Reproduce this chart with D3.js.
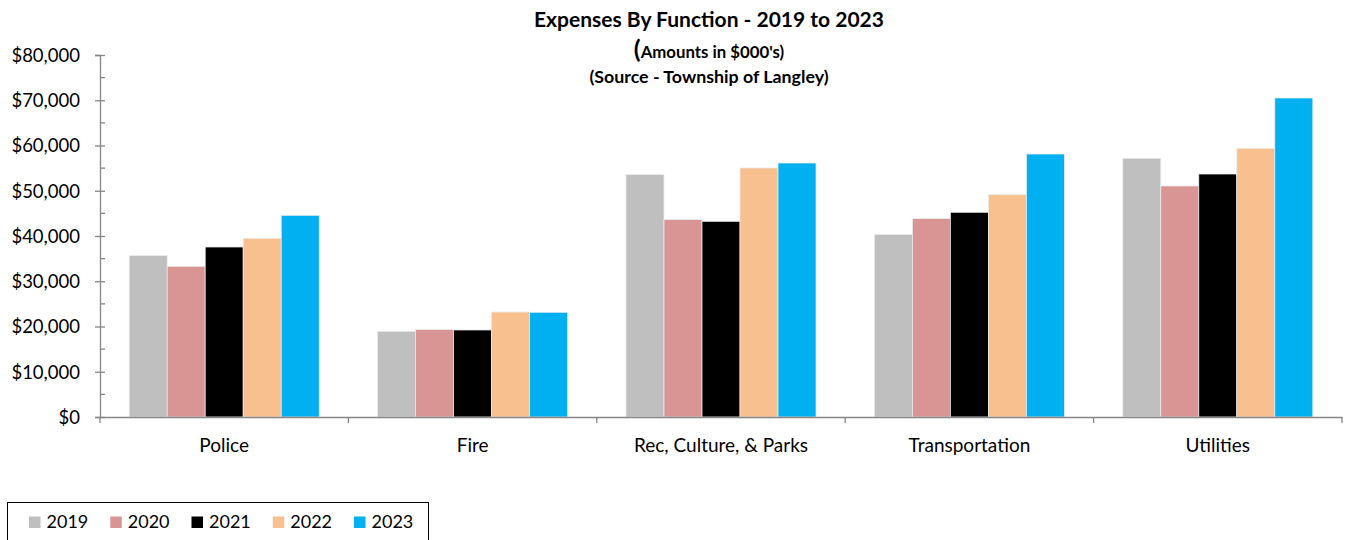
<!DOCTYPE html>
<html>
<head>
<meta charset="utf-8">
<script src="https://cdn.jsdelivr.net/npm/d3@7"></script>
<style>
  html, body { margin: 0; padding: 0; background: #fff; }
  svg { display: block; font-family: Lato, "Noto Sans", sans-serif; }
</style>
</head>
<body>
<svg id="chart" width="1348" height="540"></svg>
<script>
// Expenses by function, amounts in $000's
const categories = ["Police", "Fire", "Rec, Culture, & Parks", "Transportation", "Utilities"];
const years = ["2019", "2020", "2021", "2022", "2023"];
const colors = ["#BFBFBF", "#D99594", "#000000", "#F9C08F", "#00B0F0"];

const values2019 = [35670, 18940, 53570, 40310, 57170];
const values2020 = [33300, 19310, 43620, 43840, 51050];
const values2021 = [37570, 19230, 43250, 45240, 53700];
const values2022 = [39490, 23200, 55030, 49150, 59380];
const values2023 = [44570, 23140, 56130, 58120, 70500];
const seriesValues = [values2019, values2020, values2021, values2022, values2023];

const yTicks = [0, 10000, 20000, 30000, 40000, 50000, 60000, 70000, 80000];
const yMinorTicks = [5000, 15000, 25000, 35000, 45000, 55000, 65000, 75000];

const svg = d3.select("#chart");
const margin = { left: 100, right: 1342, top: 55, bottom: 417 };
const axisColor = "#868686";

const x0 = d3.scaleBand().domain(categories).range([margin.left, margin.right]).padding(0);
const x1 = d3.scaleBand().domain(years).range([0, x0.bandwidth()])
  .paddingInner(0).paddingOuter(0.768);
const y = d3.scaleLinear().domain([0, 80000]).range([margin.bottom, margin.top]);

// Bars
const groups = svg.append("g").selectAll("g")
  .data(categories)
  .join("g")
  .attr("transform", d => `translate(${x0(d)},0)`);

groups.selectAll("rect")
  .data((c, ci) => years.map((yr, yi) => ({ year: yr, idx: yi, value: seriesValues[yi][ci] })))
  .join("rect")
  .attr("x", d => x1(d.year))
  .attr("y", d => y(d.value))
  .attr("width", x1.bandwidth())
  .attr("height", d => y(0) - y(d.value))
  .attr("fill", d => colors[d.idx])
  .attr("stroke", "#ececec")
  .attr("stroke-width", 0.75);

// Y axis
const yAxis = d3.axisLeft(y)
  .tickValues(yTicks)
  .tickFormat(d => "$" + d3.format(",")(d))
  .tickSize(5)
  .tickPadding(15);
const yg = svg.append("g").attr("transform", `translate(${margin.left},0)`).call(yAxis);
yg.select(".domain").attr("stroke", axisColor).attr("stroke-width", 1.3);
yg.selectAll(".tick line").attr("stroke", axisColor).attr("stroke-width", 1.3)
  .attr("x1", 5).attr("x2", -5);
yg.selectAll(".tick text").attr("fill", "#000").style("font-size", "18.5px")
  .style("font-family", "Lato, sans-serif").attr("dy", "0.35em");
yg.selectAll(".minor").data(yMinorTicks).join("line")
  .attr("class", "minor")
  .attr("x1", 0).attr("x2", 5)
  .attr("y1", d => y(d)).attr("y2", d => y(d))
  .attr("stroke", axisColor).attr("stroke-width", 1.3);

// X axis
const xAxis = d3.axisBottom(x0).tickSize(0).tickPadding(22);
const xg = svg.append("g").attr("transform", `translate(0,${margin.bottom})`).call(xAxis);
xg.select(".domain").attr("stroke", axisColor).attr("stroke-width", 1.3);
xg.selectAll(".tick text").attr("fill", "#000").style("font-size", "19px")
  .style("font-family", "Lato, sans-serif");
const boundaries = categories.map(c => x0(c)).concat([x0(categories[categories.length - 1]) + x0.bandwidth()]);
xg.selectAll(".sep").data(boundaries).join("line")
  .attr("class", "sep")
  .attr("x1", d => d).attr("x2", d => d)
  .attr("y1", 0).attr("y2", 6)
  .attr("stroke", axisColor).attr("stroke-width", 1.3);

// Titles
const cx = 709;
svg.append("text").attr("x", cx).attr("y", 27).attr("text-anchor", "middle")
  .style("font-weight", "bold").style("font-size", "21px")
  .text("Expenses By Function - 2019 to 2023");
const sub = svg.append("text").attr("x", cx).attr("y", 58).attr("text-anchor", "middle")
  .style("font-weight", "bold").style("font-size", "16.8px");
sub.append("tspan").style("font-size", "25px").text("(");
sub.append("tspan").text("Amounts in $000's)");
svg.append("text").attr("x", cx).attr("y", 83).attr("text-anchor", "middle")
  .style("font-weight", "bold").style("font-size", "17.8px")
  .text("(Source - Township of Langley)");

// Legend
const legend = svg.append("g");
legend.append("rect")
  .attr("x", 7.5).attr("y", 502.5).attr("width", 421).attr("height", 50)
  .attr("fill", "#fff").attr("stroke", "#000").attr("stroke-width", 1);
const legendX = d3.scalePoint().domain(years).range([29, 354]);
const items = legend.selectAll("g.item").data(years).join("g")
  .attr("class", "item")
  .attr("transform", d => `translate(${legendX(d)},0)`);
items.append("rect")
  .attr("x", 0).attr("y", 516.5).attr("width", 11.5).attr("height", 11.5)
  .attr("fill", (d, i) => colors[i]);
items.append("text")
  .attr("x", 17.5).attr("y", 528)
  .style("font-size", "18px")
  .text(d => d);
</script>
</body>
</html>
